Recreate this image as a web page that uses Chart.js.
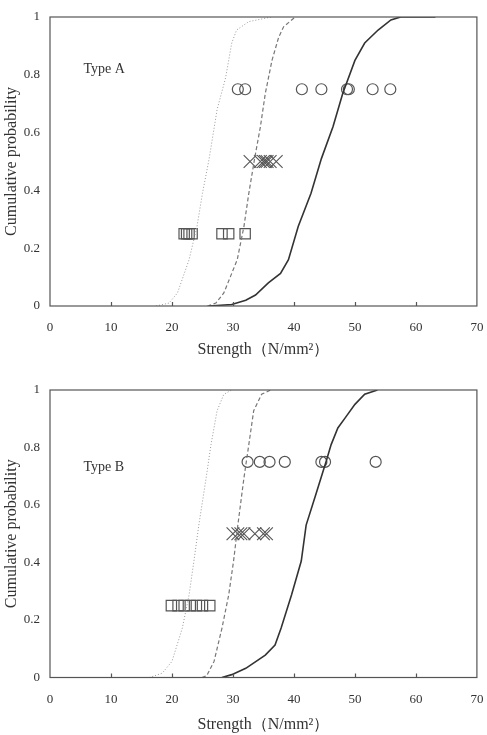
<!DOCTYPE html>
<html>
<head>
<meta charset="utf-8">
<script src="https://cdn.jsdelivr.net/npm/chart.js@4.4.1/dist/chart.umd.min.js"></script>
<style>
	html, body { margin: 0; padding: 0; background: #fff; }
	canvas { display: block; }
</style>
</head>
<body>
<canvas id="chartA" width="487" height="367"></canvas>
<canvas id="chartB" width="487" height="368"></canvas>
<script>
// Marker levels (cumulative probability)
const circleLevel = 0.75;
const crossLevel = 0.5;
const squareLevel = 0.25;

// Type A - test results
const circlesA = [30.8, 32.0, 41.3, 44.5, 48.7, 49.0, 52.9, 55.8];
const crossesA = [32.8, 34.5, 35.0, 35.3, 35.6, 36.1, 37.1];
const squaresA = [22.0, 22.4, 22.8, 23.3, 28.2, 29.3, 32.0];

// Type A - distribution curves
const dottedAx = [17.4, 19.5, 20.9, 22.8, 24.1, 25.0, 26.1, 27.4, 28.8, 29.8, 30.6, 32.6, 36.3];
const dottedAp = [0, 0.01, 0.045, 0.16, 0.275, 0.39, 0.51, 0.68, 0.79, 0.91, 0.955, 0.984, 1];
const dashedAx = [25.8, 27.2, 28.5, 30.7, 31.8, 32.6, 33.6, 34.5, 35.3, 36.4, 37.5, 38.3, 40.2];
const dashedAp = [0, 0.01, 0.045, 0.16, 0.275, 0.39, 0.516, 0.62, 0.735, 0.85, 0.93, 0.966, 1];
const solidAx = [26.1, 29.8, 32.1, 33.7, 35.8, 37.8, 39.1, 40.7, 42.8, 44.5, 46.4, 48.0, 50.0, 51.6, 53.8, 55.9, 57.5, 63.2];
const solidAp = [0, 0.005, 0.02, 0.038, 0.08, 0.113, 0.16, 0.275, 0.39, 0.51, 0.62, 0.735, 0.85, 0.91, 0.955, 0.99, 1, 1];

// Type B - test results
const circlesB = [32.4, 34.4, 36.0, 38.5, 44.5, 45.1, 53.4];
const crossesB = [30.0, 30.8, 31.3, 31.8, 33.6, 35.0, 35.5];
const squaresB = [19.9, 21.0, 22.0, 23.0, 24.0, 25.0, 26.2];

// Type B - distribution curves
const dottedBx = [16.3, 18.4, 20.0, 21.7, 22.8, 23.6, 24.4, 25.6, 26.4, 27.4, 28.5, 29.8];
const dottedBp = [0, 0.015, 0.056, 0.172, 0.287, 0.405, 0.53, 0.694, 0.81, 0.928, 0.985, 1];
const dashedBx = [24.9, 25.7, 26.9, 28.2, 29.3, 30.1, 30.8, 31.8, 32.6, 33.4, 34.7, 36.2];
const dashedBp = [0, 0.006, 0.056, 0.172, 0.287, 0.405, 0.53, 0.694, 0.81, 0.928, 0.985, 1];
const solidBx = [28.2, 29.8, 32.1, 35.3, 36.9, 37.9, 39.6, 41.2, 42.0, 43.6, 45.3, 46.1, 47.2, 48.4, 50.0, 51.6, 53.7];
const solidBp = [0, 0.01, 0.032, 0.078, 0.113, 0.172, 0.287, 0.405, 0.53, 0.637, 0.753, 0.81, 0.868, 0.903, 0.95, 0.985, 1];

// Axis ticks
const xTicks = [0, 10, 20, 30, 40, 50, 60, 70];
const yTicks = [0, 0.2, 0.4, 0.6, 0.8, 1];

const textColor = '#333';
const serif = "'Liberation Serif', 'Times New Roman', serif";

function pairs(xs, ps) {
	return xs.map((x, i) => ({ x: x, y: ps[i] }));
}
function level(xs, p) {
	return xs.map(x => ({ x: x, y: p }));
}

// Frame around the plot, inward ticks on x axis, and the "Type" label
const framePlugin = {
	id: 'frame',
	afterDraw(chart, args, opts) {
		const ctx = chart.ctx;
		const a = chart.chartArea;
		const xs = chart.scales.x;
		const ys = chart.scales.y;
		ctx.save();
		ctx.strokeStyle = '#555';
		ctx.lineWidth = 1.2;
		ctx.strokeRect(a.left, a.top, a.right - a.left, a.bottom - a.top);
		ctx.beginPath();
		xTicks.slice(1, -1).forEach(v => {
			const px = Math.round(xs.getPixelForValue(v)) + 0.5;
			ctx.moveTo(px, a.bottom);
			ctx.lineTo(px, a.bottom - 4);
		});
		ctx.stroke();
		ctx.fillStyle = textColor;
		ctx.font = '14px ' + serif;
		ctx.textBaseline = 'middle';
		ctx.fillText(opts.text, xs.getPixelForValue(opts.x), ys.getPixelForValue(opts.y));
		ctx.restore();
	}
};

function makeChart(id, d, lay) {
	const ctx = document.getElementById(id).getContext('2d');
	return new Chart(ctx, {
		type: 'scatter',
		data: {
			datasets: [
				{ data: d.solid, showLine: true, borderColor: '#333', borderWidth: 1.6, pointRadius: 0, tension: 0 },
				{ data: d.dashed, showLine: true, borderColor: '#777', borderWidth: 1.2, borderDash: [4, 2.5], pointRadius: 0, tension: 0 },
				{ data: d.dotted, showLine: true, borderColor: '#999', borderWidth: 1, borderDash: [1, 2], pointRadius: 0, tension: 0 },
				{ data: d.circles, pointStyle: 'circle', pointRadius: 5.5, borderColor: '#555', backgroundColor: 'rgba(0,0,0,0)', borderWidth: 1.2 },
				{ data: d.crosses, pointStyle: 'crossRot', pointRadius: 9, borderColor: '#555', borderWidth: 1.1 },
				{ data: d.squares, pointStyle: 'rect', pointRadius: 7.3, borderColor: '#555', backgroundColor: 'rgba(0,0,0,0)', borderWidth: 1.2 }
			]
		},
		options: {
			responsive: false,
			animation: false,
			devicePixelRatio: 1,
			layout: { padding: { left: 0, right: 7, top: lay.top, bottom: 0 } },
			plugins: {
				legend: { display: false },
				tooltip: { enabled: false },
				frame: { text: d.label, x: 5.5, y: d.labelY }
			},
			scales: {
				x: {
					type: 'linear',
					min: 0,
					max: 70,
					afterBuildTicks: s => { s.ticks = xTicks.map(v => ({ value: v })); },
					afterFit: s => { s.height = lay.xh; s.paddingLeft = 0; s.paddingRight = 0; },
					grid: { display: false, drawTicks: false },
					border: { display: false },
					ticks: { color: textColor, padding: 14, font: { family: serif, size: 13 }, callback: v => String(v) },
					title: {
						display: true,
						text: 'Strength（N/mm²）',
						color: textColor,
						font: { family: serif, size: 16 },
						padding: { top: 0, bottom: lay.tb }
					}
				},
				y: {
					type: 'linear',
					min: 0,
					max: 1,
					afterBuildTicks: s => { s.ticks = yTicks.map(v => ({ value: v })); },
					afterFit: s => { s.width = 50; s.paddingTop = 0; s.paddingBottom = 0; },
					grid: { display: false, drawTicks: false },
					border: { display: false },
					ticks: { color: textColor, padding: 10, font: { family: serif, size: 13 }, callback: v => String(Math.round(v * 10) / 10) },
					title: {
						display: true,
						text: 'Cumulative probability',
						color: textColor,
						font: { family: serif, size: 16 },
						padding: { top: 2, bottom: 0 }
					}
				}
			}
		},
		plugins: [framePlugin]
	});
}

makeChart('chartA', {
	solid: pairs(solidAx, solidAp),
	dashed: pairs(dashedAx, dashedAp),
	dotted: pairs(dottedAx, dottedAp),
	circles: level(circlesA, circleLevel),
	crosses: level(crossesA, crossLevel),
	squares: level(squaresA, squareLevel),
	label: 'Type A',
	labelY: 0.82
}, { top: 17, xh: 61, tb: 8 });

makeChart('chartB', {
	solid: pairs(solidBx, solidBp),
	dashed: pairs(dashedBx, dashedBp),
	dotted: pairs(dottedBx, dottedBp),
	circles: level(circlesB, circleLevel),
	crosses: level(crossesB, crossLevel),
	squares: level(squaresB, squareLevel),
	label: 'Type B',
	labelY: 0.73
}, { top: 23, xh: 57.5, tb: 1 });
</script>
</body>
</html>
